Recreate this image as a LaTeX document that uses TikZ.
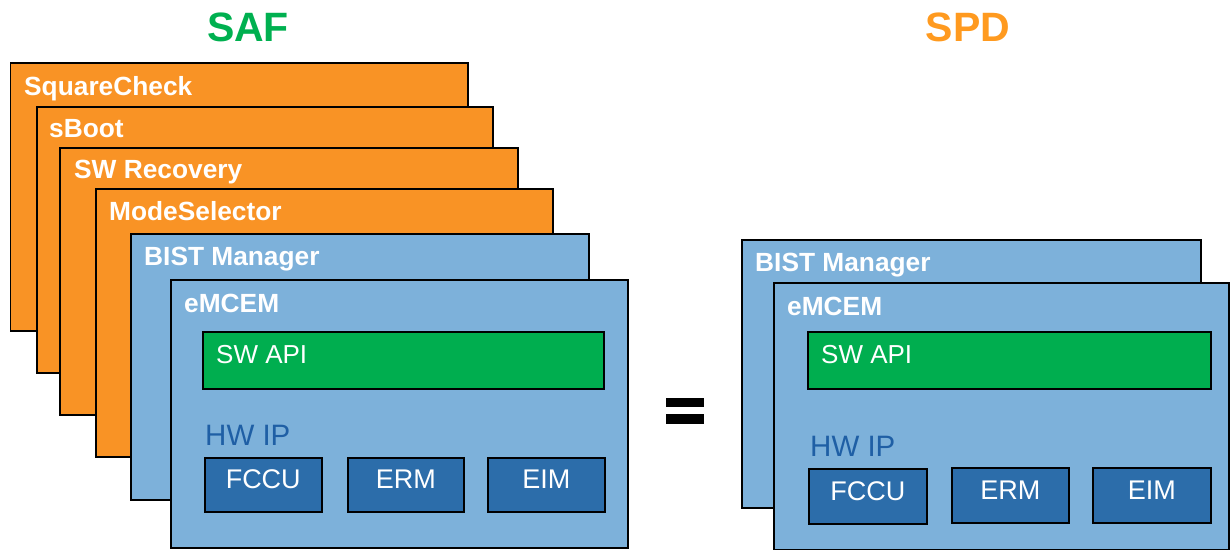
\documentclass[tikz,border=0pt]{standalone}
\usepackage{fontspec}
\setmainfont{Liberation Sans}
\definecolor{orng}{HTML}{F99325}
\definecolor{lblue}{HTML}{7DB1DA}
\definecolor{grn}{HTML}{00AE4F}
\definecolor{dblue}{HTML}{2C6DAA}
\definecolor{hwtxt}{HTML}{1F5FA5}
\definecolor{saftitle}{HTML}{00B050}
\definecolor{spdtitle}{HTML}{FF9A1F}
\tikzset{
  frame/.style={draw=black, line width=1.5pt, inner sep=0pt, anchor=north west},
  obox/.style={frame, fill=orng},
  bbox/.style={frame, fill=lblue},
  gbox/.style={frame, fill=grn},
  hbox/.style={frame, fill=dblue},
  lbl/.style={anchor=base west, inner sep=0pt, text=white, font=\fontsize{26.3}{31}\selectfont\bfseries},
  apilbl/.style={anchor=base west, inner sep=0pt, text=white, font=\fontsize{26}{31}\selectfont},
  hwlbl/.style={anchor=base west, inner sep=0pt, text=hwtxt, font=\fontsize{29.5}{34}\selectfont},
  iplbl/.style={inner sep=0pt, text=white, font=\fontsize{27}{32}\selectfont},
  title/.style={inner sep=0pt, font=\fontsize{41}{48}\selectfont\bfseries},
}
% \mkbox{style}{name}{x1}{y1}{x2}{y2}
\newcommand{\mkbox}[6]{%
  \pgfmathsetmacro{\bw}{#5-#3}\pgfmathsetmacro{\bh}{#6-#4}%
  \node[#1, minimum width=\bw pt, minimum height=\bh pt] (#2) at (#3,#4) {};}
\begin{document}
\begin{tikzpicture}[x=1pt,y=-1pt]
\useasboundingbox (0,0) rectangle (1231,550);
% titles
\node[title, text=saftitle] (saf) at (248,27) {SAF};
\node[title, text=spdtitle] (spd) at (968,27) {SPD};
% left stack
\mkbox{obox}{sq}{9.5}{62}{467}{330}
\node[lbl] (sqt) at ([xshift=14.5pt,yshift=-33pt]sq.north west) {SquareCheck};
\mkbox{obox}{sb}{36}{106}{492}{372}
\node[lbl] (sbt) at ([xshift=13pt,yshift=-31pt]sb.north west) {sBoot};
\mkbox{obox}{swr}{59}{147}{517}{414}
\node[lbl] (swrt) at ([xshift=15pt,yshift=-31pt]swr.north west) {SW Recovery};
\mkbox{obox}{ms}{95}{188}{552}{456}
\node[lbl] (mst) at ([xshift=14pt,yshift=-32pt]ms.north west) {ModeSelector};
\mkbox{bbox}{bm}{130}{233}{588}{499}
\node[lbl] (bmt) at ([xshift=14pt,yshift=-32pt]bm.north west) {BIST Manager};
\mkbox{bbox}{em}{170}{279}{627}{547}
\node[lbl] (emt) at ([xshift=14pt,yshift=-33pt]em.north west) {eMCEM};
\mkbox{gbox}{api}{202}{331}{603}{388}
\node[apilbl] (apit) at ([xshift=14pt,yshift=-32pt]api.north west) {SW API};
\node[hwlbl] (hw) at (205,445) {HW IP};
\mkbox{hbox}{fc}{204}{457}{321}{511}
\node[iplbl] at ([yshift=5.5pt]fc.center) {FCCU};
\mkbox{hbox}{er}{347}{457}{463}{511}
\node[iplbl] at ([yshift=5.5pt]er.center) {ERM};
\mkbox{hbox}{ei}{487}{457}{604}{511}
\node[iplbl] at ([yshift=5.5pt]ei.center) {EIM};
% equals
\fill[black] (666,398) rectangle (703.5,407);
\fill[black] (666,414) rectangle (703.5,424);
% right stack
\mkbox{bbox}{bm2}{741}{239}{1200}{507}
\node[lbl] (bm2t) at ([xshift=14pt,yshift=-32pt]bm2.north west) {BIST Manager};
\mkbox{bbox}{em2}{773}{282}{1228}{548.5}
\node[lbl] (em2t) at ([xshift=14pt,yshift=-33pt]em2.north west) {eMCEM};
\mkbox{gbox}{api2}{807}{331}{1210}{388}
\node[apilbl] (api2t) at ([xshift=14pt,yshift=-32pt]api2.north west) {SW API};
\node[hwlbl] (hw2) at (810,456) {HW IP};
\mkbox{hbox}{fc2}{808}{468}{926}{523}
\node[iplbl] at ([yshift=5.5pt]fc2.center) {FCCU};
\mkbox{hbox}{er2}{951}{467}{1068}{522}
\node[iplbl] at ([yshift=5.5pt]er2.center) {ERM};
\mkbox{hbox}{ei2}{1092}{467}{1210}{522}
\node[iplbl] at ([yshift=5.5pt]ei2.center) {EIM};
\end{tikzpicture}
\end{document}
